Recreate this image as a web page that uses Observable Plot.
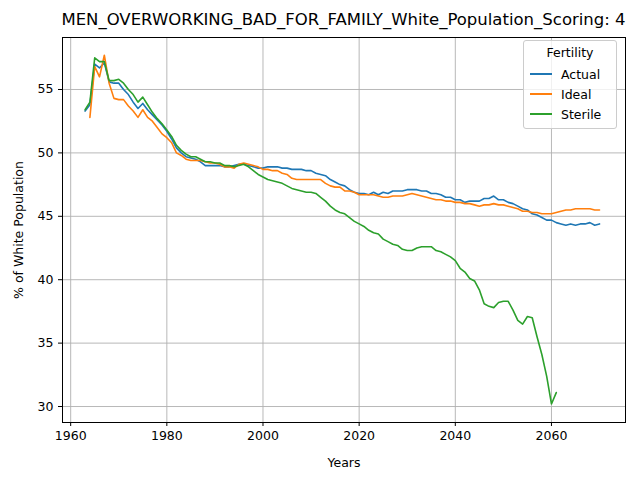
<!DOCTYPE html>
<html><head>
<script src="https://cdn.jsdelivr.net/npm/d3@7"></script>
<script src="https://cdn.jsdelivr.net/npm/@observablehq/plot@0.6"></script>
<style>
body{margin:0;font-family:"DejaVu Sans",sans-serif;}
#wrap{position:relative;width:640px;height:480px;}
#title{position:absolute;top:10px;left:40px;width:607px;text-align:center;font-size:16.5px;}
#legend{position:absolute;left:523px;top:40px;width:92px;border:1px solid #ccc;border-radius:3px;background:rgba(255,255,255,0.8);font-size:12.5px;padding:4px 0 4px 0;}
#legend .t{text-align:center;margin-bottom:4px;}
#legend .r{display:flex;align-items:center;height:20px;padding-left:6px;}
#legend .r span{display:inline-block;width:22px;height:2px;margin-right:9px;}
</style></head><body>
<div id="wrap"><div id="title">MEN_OVERWORKING_BAD_FOR_FAMILY_White_Population_Scoring: 4</div><div id="legend"></div></div>
<script>
const seriesNames = ["Actual","Ideal","Sterile"];
const colors = ["#1f77b4","#ff7f0e","#2ca02c"];
const startYears = [1963,1964,1963];
const actual = [53.3,53.8,57.0,56.7,57.1,55.6,55.5,55.5,55.0,54.6,54.0,53.5,53.9,53.4,53.0,52.6,52.2,51.7,51.1,50.4,50.0,49.7,49.6,49.5,49.3,49.0,49.0,49.0,49.0,48.9,48.9,49.0,49.1,49.1,49.0,48.9,48.8,48.8,48.9,48.9,48.9,48.8,48.8,48.7,48.7,48.7,48.6,48.6,48.4,48.3,48.2,47.9,47.7,47.5,47.4,47.1,46.9,46.8,46.8,46.7,46.9,46.7,46.9,46.8,47.0,47.0,47.0,47.1,47.1,47.1,47.0,47.0,46.8,46.8,46.7,46.5,46.5,46.3,46.3,46.1,46.2,46.2,46.2,46.4,46.4,46.6,46.3,46.3,46.1,46.0,45.8,45.6,45.5,45.2,45.1,44.9,44.7,44.7,44.5,44.4,44.3,44.4,44.3,44.4,44.4,44.5,44.3,44.4];
const ideal = [52.8,56.8,56.0,57.7,55.5,54.3,54.2,54.2,53.7,53.3,52.8,53.4,52.8,52.5,52.0,51.5,51.2,50.8,50.0,49.8,49.5,49.4,49.4,49.4,49.3,49.2,49.2,49.1,48.9,48.9,48.8,49.1,49.2,49.1,49.0,48.9,48.7,48.7,48.6,48.6,48.4,48.3,48.0,47.9,47.9,47.9,47.9,47.9,47.9,47.6,47.4,47.3,47.3,47.0,47.0,46.9,46.7,46.7,46.7,46.7,46.6,46.5,46.5,46.6,46.6,46.6,46.7,46.8,46.7,46.6,46.5,46.4,46.3,46.3,46.2,46.2,46.1,46.1,46.0,46.0,45.9,45.8,45.9,45.9,46.0,45.9,45.9,45.8,45.7,45.6,45.4,45.4,45.3,45.3,45.2,45.2,45.2,45.3,45.4,45.5,45.5,45.6,45.6,45.6,45.6,45.5,45.5];
const sterile = [53.4,54.0,57.5,57.2,57.2,55.7,55.7,55.8,55.5,55.0,54.6,54.0,54.4,53.8,53.2,52.7,52.3,51.8,51.3,50.6,50.2,49.9,49.7,49.7,49.5,49.3,49.3,49.2,49.2,49.0,49.0,48.9,49.0,49.1,48.9,48.6,48.3,48.1,47.9,47.8,47.7,47.6,47.4,47.2,47.1,47.0,46.9,46.9,46.8,46.5,46.2,45.8,45.5,45.3,45.2,44.9,44.6,44.4,44.2,43.9,43.7,43.6,43.2,43.0,42.8,42.7,42.4,42.3,42.3,42.5,42.6,42.6,42.6,42.3,42.2,42.0,41.8,41.5,40.9,40.6,40.1,39.9,39.2,38.1,37.9,37.8,38.2,38.3,38.3,37.6,36.8,36.5,37.1,37.0,35.5,34.1,32.4,30.2,31.1];
const xTicks = [1960,1980,2000,2020,2040,2060];
const yTicks = [30,35,40,45,50,55];

const values = [actual, ideal, sterile];
const data = values.flatMap((arr,i)=>arr.map((v,j)=>({series:seriesNames[i],year:startYears[i]+j,value:v})));

const plot = Plot.plot({
  width:640,height:480,marginLeft:62,marginRight:15,marginTop:37,marginBottom:58,
  style:{fontFamily:"DejaVu Sans",fontSize:"12.5px",background:"white"},
  x:{domain:[1958.3,2075.4]},
  y:{domain:[28.74,59.1]},
  color:{domain:seriesNames,range:colors},
  marks:[
    Plot.gridX(xTicks,{stroke:"#b0b0b0",strokeOpacity:1,strokeWidth:0.9}),
    Plot.gridY(yTicks,{stroke:"#b0b0b0",strokeOpacity:1,strokeWidth:0.9}),
    Plot.line(data,{x:"year",y:"value",stroke:"series",strokeWidth:1.6}),
    Plot.frame({stroke:"black",strokeWidth:1}),
    Plot.axisX({ticks:xTicks,tickFormat:d=>String(d),label:"Years",labelAnchor:"center",labelArrow:"none",labelOffset:44,tickSize:4}),
    Plot.axisY({ticks:yTicks,label:"% of White Population",labelAnchor:"center",labelArrow:"none",labelOffset:48,tickSize:4})
  ]
});
const wrap=document.getElementById("wrap");
wrap.insertBefore(plot,wrap.firstChild);
const lg=document.getElementById("legend");
lg.innerHTML='<div class="t">Fertility</div>'+seriesNames.map((n,i)=>`<div class="r"><span style="background:${colors[i]}"></span>${n}</div>`).join("");
</script></body></html>
